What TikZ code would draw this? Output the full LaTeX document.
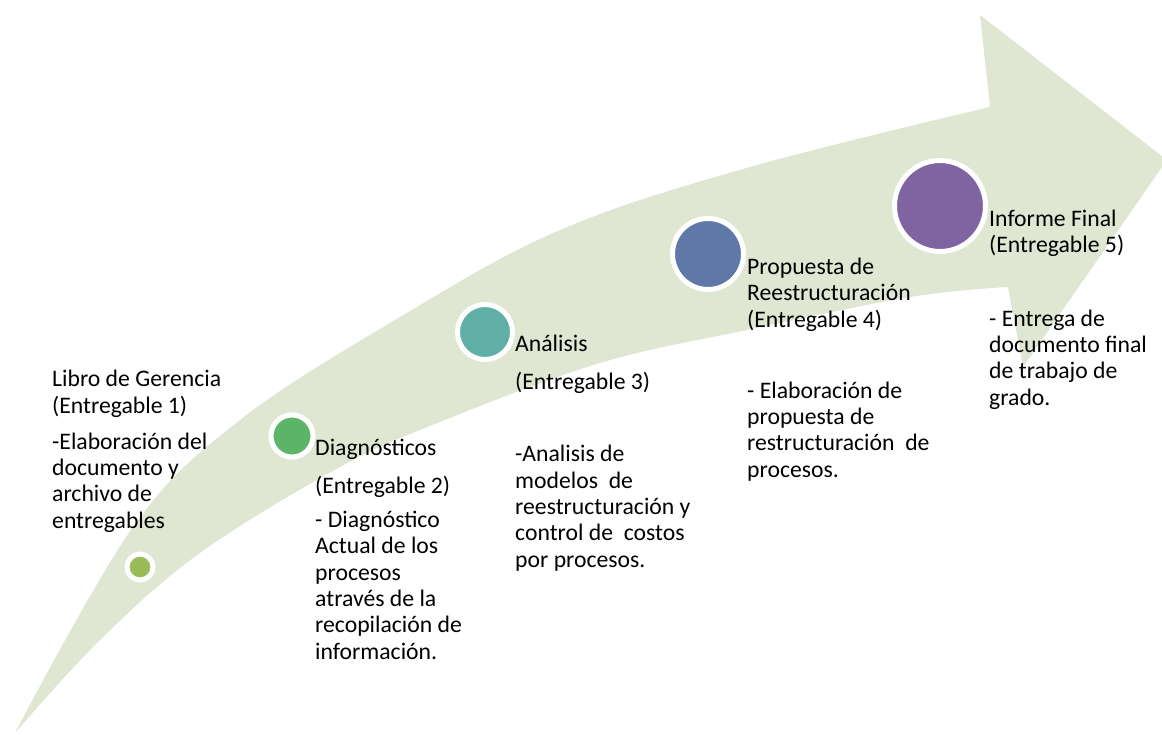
\documentclass[tikz,border=0pt]{standalone}
\usepackage{fontspec}
\setmainfont{Carlito}
\definecolor{flecha}{HTML}{DFE7D2}
\definecolor{verdeA}{HTML}{9BBB59}
\definecolor{verdeB}{HTML}{5BB467}
\definecolor{turquesa}{HTML}{60AFA7}
\definecolor{azul}{HTML}{5F78A8}
\definecolor{morado}{HTML}{8064A2}
\tikzset{
  hito/.style={circle, draw=white, line width=5pt, inner sep=0pt},
  texto/.style={anchor=base west, inner sep=0pt, align=left,
    font=\fontsize{23.7}{26.3}\selectfont}
}
\begin{document}
\begin{tikzpicture}[x=1pt,y=-1pt]
\useasboundingbox (0,0) rectangle (1162,735);

% flecha de fondo
\fill [flecha] plot[smooth, tension=0.6] coordinates {(15,733) (133,527) (240,420) (400,317) (560,230) (750,167) (990,107) }
  -- (980,15) -- (1167,160) -- (1023,367)
  -- plot[smooth, tension=0.6] coordinates {(1008,287) (910,297) (747,330) (600,363) (440,422) (340,467) (200,553) (100,640) (15,733) } -- cycle;

\node [hito, fill=verdeA, minimum size=26pt] (v1) at (140,567) {};
\node [hito, fill=verdeB, minimum size=42pt] (v2) at (292,436) {};
\node [hito, fill=turquesa, minimum size=55pt] (v3) at (485,332) {};
\node [hito, fill=azul, minimum size=71pt] (v4) at (708,254) {};
\node [hito, fill=morado, minimum size=91pt] (v5) at (940,206) {};

% textos (anclados en la linea base de la ultima linea)
\node [texto] (t1) at (52,413) {Libro de Gerencia\\(Entregable 1)};
\node [texto] (b1) at (52,528) {-Elaboración del\\documento y\\archivo de\\entregables};

\node [texto] (t2) at (315,493) {Diagnósticos\\[11pt](Entregable 2)};
\node [texto] (b2) at (315,659) {- Diagnóstico\\Actual de los\\procesos\\através de la\\recopilación de\\información.};

\node [texto] (t3) at (515,389) {Análisis\\[11pt](Entregable 3)};
\node [texto] (b3) at (515,567) {-Analisis de\\modelos~ de\\reestructuración y\\control de~ costos\\por procesos.};

\node [texto] (t4) at (747,327) {Propuesta de\\Reestructuración\\(Entregable 4)};
\node [texto] (b4) at (747,477) {- Elaboración de\\propuesta de\\restructuración~ de\\procesos.};

\node [texto] (t5) at (989,253) {Informe Final\\(Entregable 5)};
\node [texto] (b5) at (989,405) {- Entrega de\\documento final\\de trabajo de\\grado.};
\end{tikzpicture}
\end{document}
